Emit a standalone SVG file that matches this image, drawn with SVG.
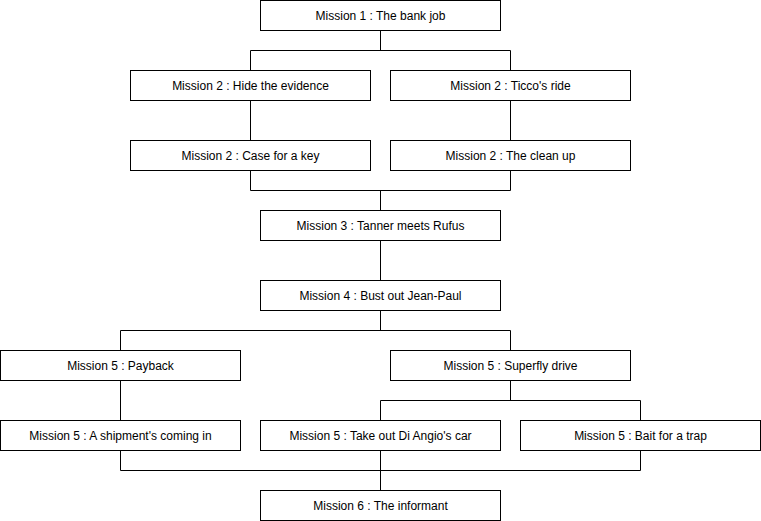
<svg xmlns="http://www.w3.org/2000/svg" width="761" height="521" viewBox="0 0 761 521">
<style>
.n rect{fill:#fff;stroke:#000;stroke-width:1}
.n text{font-family:"Liberation Sans",Arial,sans-serif;font-size:12px;fill:#000;text-anchor:middle;dominant-baseline:central}
.c path{fill:none;stroke:#000;stroke-width:1}
</style>
<rect width="761" height="521" fill="#fff"/>
<g class="c" id="connectors">
<path d="M380.5 30.5V50.5M250.5 50.5H510.5M250.5 50.5V70.5M510.5 50.5V70.5"/>
<path d="M250.5 100.5V140.5M510.5 100.5V140.5"/>
<path d="M250.5 170.5V190.5H510.5V170.5M380.5 190.5V210.5"/>
<path d="M380.5 240.5V280.5"/>
<path d="M380.5 310.5V330.5M120.5 330.5H510.5M120.5 330.5V350.5M510.5 330.5V350.5"/>
<path d="M120.5 380.5V420.5"/>
<path d="M510.5 380.5V400.5M380.5 400.5H640.5M380.5 400.5V420.5M640.5 400.5V420.5"/>
<path d="M120.5 450.5V470.5H640.5V450.5M380.5 450.5V490.5"/>
</g>
<g class="n" id="m1"><rect x="260.5" y="0.5" width="240" height="30"/><text x="380.5" y="15.5">Mission 1 : The bank job</text></g>
<g class="n" id="m2a"><rect x="130.5" y="70.5" width="240" height="30"/><text x="250.5" y="85.5">Mission 2 : Hide the evidence</text></g>
<g class="n" id="m2b"><rect x="390.5" y="70.5" width="240" height="30"/><text x="510.5" y="85.5">Mission 2 : Ticco's ride</text></g>
<g class="n" id="m2c"><rect x="130.5" y="140.5" width="240" height="30"/><text x="250.5" y="155.5">Mission 2 : Case for a key</text></g>
<g class="n" id="m2d"><rect x="390.5" y="140.5" width="240" height="30"/><text x="510.5" y="155.5">Mission 2 : The clean up</text></g>
<g class="n" id="m3"><rect x="260.5" y="210.5" width="240" height="30"/><text x="380.5" y="225.5">Mission 3 : Tanner meets Rufus</text></g>
<g class="n" id="m4"><rect x="260.5" y="280.5" width="240" height="30"/><text x="380.5" y="295.5">Mission 4 : Bust out Jean-Paul</text></g>
<g class="n" id="m5a"><rect x="0.5" y="350.5" width="240" height="30"/><text x="120.5" y="365.5">Mission 5 : Payback</text></g>
<g class="n" id="m5b"><rect x="390.5" y="350.5" width="240" height="30"/><text x="510.5" y="365.5">Mission 5 : Superfly drive</text></g>
<g class="n" id="m5c"><rect x="0.5" y="420.5" width="240" height="30"/><text x="120.5" y="435.5">Mission 5 : A shipment's coming in</text></g>
<g class="n" id="m5d"><rect x="260.5" y="420.5" width="240" height="30"/><text x="380.5" y="435.5">Mission 5 : Take out Di Angio's car</text></g>
<g class="n" id="m5e"><rect x="520.5" y="420.5" width="240" height="30"/><text x="640.5" y="435.5">Mission 5 : Bait for a trap</text></g>
<g class="n" id="m6"><rect x="260.5" y="490.5" width="240" height="30"/><text x="380.5" y="505.5">Mission 6 : The informant</text></g>
</svg>
